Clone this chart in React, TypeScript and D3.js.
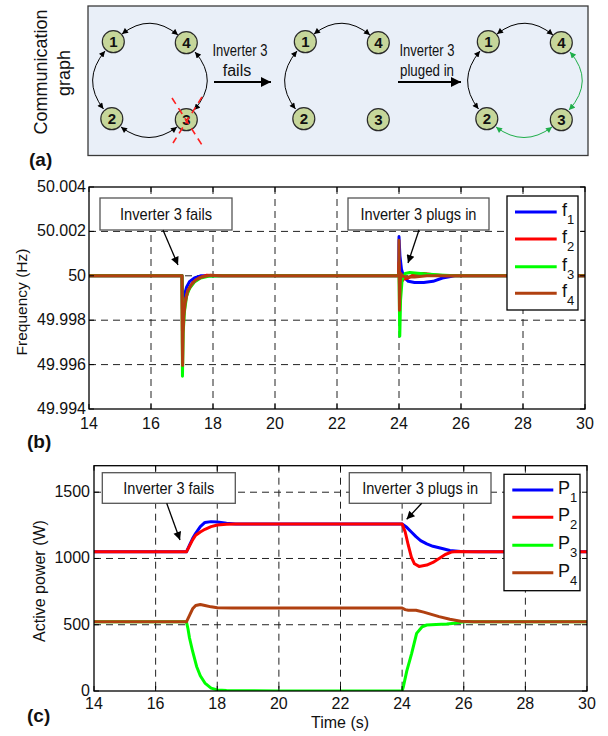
import React from 'react';
import * as d3 from 'd3';

// ---------- data ----------
const timeTicks = [14, 16, 18, 20, 22, 24, 26, 28, 30];
const freqTicks = [49.994, 49.996, 49.998, 50, 50.002, 50.004];
const freqTickLabels = ['49.994', '49.996', '49.998', '50', '50.002', '50.004'];
const powerTicks = [0, 500, 1000, 1500];
const powerTickLabels = ['0', '500', '1000', '1500'];

const f1T = [14, 17.0, 17.015, 17.04, 17.08, 17.15, 17.25, 17.4, 17.6, 17.9, 18.5, 23.99, 24.0, 24.03, 24.08, 24.15, 24.3, 24.5, 24.8, 25.1, 25.4, 25.8, 26.2, 30];
const f1V = [50, 50, 49.9985, 49.9988, 49.99915, 49.9995, 49.99975, 49.9999, 50.0, 50.0, 50.0, 50, 50.00176, 50.0009, 50.0003, 49.99995, 49.99975, 49.9997, 49.9997, 49.99975, 49.9999, 50.0, 50.0, 50];
const f2T = [14, 17.0, 17.015, 17.05, 17.1, 17.2, 17.35, 17.55, 17.8, 18.2, 23.99, 24.0, 24.02, 24.06, 24.15, 24.3, 24.5, 24.8, 25.1, 25.5, 26, 30];
const f2V = [50, 50, 49.9975, 49.9984, 49.9989, 49.99935, 49.9997, 49.9999, 50.00003, 50, 50, 50.0006, 49.9993, 49.9997, 49.99985, 49.9999, 50.00008, 50.0001, 50.00005, 50.0, 50, 50];
const f3T = [14, 17.0, 17.015, 17.04, 17.08, 17.15, 17.25, 17.4, 17.6, 17.85, 18.3, 23.99, 24.0, 24.025, 24.05, 24.1, 24.2, 24.35, 24.6, 24.9, 25.3, 25.8, 30];
const f3V = [50, 50, 49.99548, 49.9975, 49.9984, 49.9991, 49.99945, 49.99972, 49.9999, 49.99998, 50, 50, 50.0001, 49.99728, 49.9989, 49.9998, 50.0001, 50.00015, 50.00012, 50.00008, 50.00004, 50, 50];
const f4T = [14, 17.0, 17.01, 17.02, 17.035, 17.06, 17.1, 17.18, 17.3, 17.45, 17.65, 17.9, 18.3, 23.99, 24.0, 24.015, 24.035, 24.06, 24.1, 24.2, 24.5, 24.9, 25.3, 30];
const f4V = [50, 50, 49.997, 49.99596, 49.9974, 49.9982, 49.99875, 49.9993, 49.9996, 49.99982, 49.99995, 50.00002, 50, 50, 50.0016, 49.99845, 49.9996, 50.0001, 50.0, 49.99995, 49.99995, 50.0, 50, 50];

const p1T = [14, 17.0, 17.1, 17.2, 17.3, 17.45, 17.6, 17.8, 18.0, 18.3, 18.6, 24.0, 24.15, 24.3, 24.45, 24.6, 24.8, 25.0, 25.3, 25.55, 25.9, 26.5, 30];
const p1V = [1050, 1050, 1100, 1150, 1190, 1240, 1272, 1278, 1275, 1265, 1260, 1260, 1235, 1200, 1165, 1135, 1110, 1092, 1075, 1060, 1052, 1050, 1050];
const p2T = [14, 17.0, 17.1, 17.2, 17.3, 17.45, 17.6, 17.8, 18.0, 18.3, 18.6, 24.0, 24.1, 24.2, 24.3, 24.4, 24.55, 24.8, 25.0, 25.2, 25.4, 25.6, 25.8, 26.2, 30];
const p2V = [1050, 1050, 1095, 1140, 1175, 1200, 1220, 1240, 1252, 1258, 1260, 1260, 1200, 1100, 1010, 960, 940, 950, 970, 1000, 1030, 1048, 1052, 1050, 1050];
const p3T = [14, 17.0, 17.05, 17.1, 17.2, 17.33, 17.45, 17.6, 17.8, 18.0, 18.3, 20, 24.0, 24.04, 24.15, 24.31, 24.47, 24.65, 24.8, 25.1, 25.45, 25.7, 26.0, 30];
const p3V = [522, 522, 470, 400, 300, 185, 115, 60, 22, 8, 3, 0, 0, 32, 150, 284, 435, 485, 498, 502, 505, 512, 522, 522];
const p4T = [14, 17.0, 17.1, 17.2, 17.3, 17.45, 17.6, 17.8, 18.0, 18.5, 24.0, 24.1, 24.2, 24.45, 24.7, 24.95, 25.2, 25.55, 25.9, 26.3, 30];
const p4V = [522, 522, 570, 620, 645, 652, 645, 635, 628, 626, 626, 614, 610, 609, 595, 578, 561, 541, 526, 522, 522];

const BLUE = '#0000ff';
const RED = '#ff0000';
const GREEN = '#00ff00';
const BROWN = '#b04010';

const SANS = "'Liberation Sans', Arial, Helvetica, sans-serif";
const NARROW = "'Liberation Sans Narrow', 'Arial Narrow', 'Liberation Sans', Arial, sans-serif";

type Series = { t: number[]; v: number[]; color: string; name: string; sub: string };

const freqSeries: Series[] = [
  { t: f1T, v: f1V, color: BLUE, name: 'f', sub: '1' },
  { t: f2T, v: f2V, color: RED, name: 'f', sub: '2' },
  { t: f3T, v: f3V, color: GREEN, name: 'f', sub: '3' },
  { t: f4T, v: f4V, color: BROWN, name: 'f', sub: '4' },
];
const powerSeries: Series[] = [
  { t: p1T, v: p1V, color: BLUE, name: 'P', sub: '1' },
  { t: p2T, v: p2V, color: RED, name: 'P', sub: '2' },
  { t: p3T, v: p3V, color: GREEN, name: 'P', sub: '3' },
  { t: p4T, v: p4V, color: BROWN, name: 'P', sub: '4' },
];

type Annot = { x0: number; y0: number; x1: number; y1: number; text: string; tl: number; ax0: number; ay0: number; ax1: number; ay1: number };

type PlotProps = {
  id: string;
  left: number; right: number; top: number; bottom: number;
  yDomain: [number, number];
  yTicks: number[]; yLabels: string[]; yLabelRight: number;
  xLabelBaseline: number;
  series: Series[];
  legend: { x0: number; x1: number; y0: number; y1: number; rows: number[]; lx0: number; lx1: number; tx: number };
  annots: Annot[];
};

function Plot(p: PlotProps) {
  const x = d3.scaleLinear().domain([14, 30]).range([p.left, p.right]);
  const y = d3.scaleLinear().domain(p.yDomain).range([p.bottom, p.top]);
  const line = d3.line<[number, number]>().x(d => x(d[0])).y(d => y(d[1]));
  const tk = 5;
  return (
    <g>
      <defs>
        <clipPath id={p.id + 'clip'}>
          <rect x={p.left} y={p.top} width={p.right - p.left} height={p.bottom - p.top} />
        </clipPath>
      </defs>
      <rect x={p.left} y={p.top} width={p.right - p.left} height={p.bottom - p.top} fill="#fff" />
      {timeTicks.filter(t => t > 14 && t < 30).map(t => (
        <line key={'gx' + t} x1={x(t)} x2={x(t)} y1={p.top} y2={p.bottom} stroke="#222" strokeWidth={1} strokeDasharray="7,5" />
      ))}
      {p.yTicks.filter(v => y(v) > p.top + 1 && y(v) < p.bottom - 1).map(v => (
        <line key={'gy' + v} x1={p.left} x2={p.right} y1={y(v)} y2={y(v)} stroke="#222" strokeWidth={1} strokeDasharray="7,5" />
      ))}
      <g clipPath={`url(#${p.id}clip)`}>
        {p.series.map(s => (
          <path key={s.sub} d={line(s.t.map((t, i) => [t, s.v[i]] as [number, number])) || ''} fill="none" stroke={s.color} strokeWidth={3} strokeLinejoin="round" />
        ))}
      </g>
      {timeTicks.map(t => (
        <g key={'tx' + t}>
          <line x1={x(t)} x2={x(t)} y1={p.bottom} y2={p.bottom - tk} stroke="#000" />
          <line x1={x(t)} x2={x(t)} y1={p.top} y2={p.top + tk} stroke="#000" />
          <text x={x(t)} y={p.xLabelBaseline} textAnchor="middle" fontFamily={SANS} fontSize={16} fill="#111">{t}</text>
        </g>
      ))}
      {p.yTicks.map((v, i) => (
        <g key={'ty' + v}>
          <line x1={p.left} x2={p.left + tk} y1={y(v)} y2={y(v)} stroke="#000" />
          <line x1={p.right} x2={p.right - tk} y1={y(v)} y2={y(v)} stroke="#000" />
          <text x={p.yLabelRight} y={y(v) + 5} textAnchor="end" fontFamily={SANS} fontSize={16} fill="#111">{p.yLabels[i]}</text>
        </g>
      ))}
      <rect x={p.left} y={p.top} width={p.right - p.left} height={p.bottom - p.top} fill="none" stroke="#000" strokeWidth={1.3} />
      {p.annots.map((a, i) => (
        <g key={'an' + i}>
          <rect x={a.x0} y={a.y0} width={a.x1 - a.x0} height={a.y1 - a.y0} fill="#fff" stroke="#555" strokeWidth={1.3} />
          <text x={(a.x0 + a.x1) / 2} y={(a.y0 + a.y1) / 2 + 6} textAnchor="middle" fontFamily={NARROW} fontSize={17} fill="#111"
            textLength={a.tl} lengthAdjust="spacingAndGlyphs">{a.text}</text>
          <line x1={a.ax0} y1={a.ay0} x2={a.ax1} y2={a.ay1} stroke="#000" strokeWidth={1.3} markerEnd="url(#annArrow)" />
        </g>
      ))}
      <rect x={p.legend.x0} y={p.legend.y0} width={p.legend.x1 - p.legend.x0} height={p.legend.y1 - p.legend.y0} fill="#fff" stroke="#000" strokeWidth={1.3} />
      {p.series.map((s, i) => (
        <g key={'lg' + i}>
          <line x1={p.legend.lx0} x2={p.legend.lx1} y1={p.legend.rows[i]} y2={p.legend.rows[i]} stroke={s.color} strokeWidth={3} />
          <text x={p.legend.tx} y={p.legend.rows[i] + 4} fontFamily={SANS} fontSize={18} fill="#111">
            {s.name}
            <tspan fontSize={13} dy={8}>{s.sub}</tspan>
          </text>
        </g>
      ))}
    </g>
  );
}

// ---------- communication graph ----------
const graphOffsets = [0, 192, 375];
const nodeIds = ['1', '4', '2', '3'];
const nodeDx = [0, 73, -1.5, 73];
const nodeDy = [0, 1, 77, 78];

function Graph({ ox, arcs }: { ox: number; arcs: { d: string; color: string }[] }) {
  const bx = 113.3 + ox;
  const by = 41.7;
  return (
    <g>
      {arcs.map((a, i) => (
        <path key={i} d={a.d} transform={`translate(${ox},0)`} fill="none" stroke={a.color} strokeWidth={1}
          markerStart={a.color === '#000' ? 'url(#smallArrowK)' : 'url(#smallArrowG)'}
          markerEnd={a.color === '#000' ? 'url(#smallArrowK)' : 'url(#smallArrowG)'} />
      ))}
      {nodeIds.map((n, i) => (
        <g key={n}>
          <circle cx={bx + nodeDx[i]} cy={by + nodeDy[i]} r={11} fill="#c6d69a" stroke="#2a2a2a" strokeWidth={1.2} />
          <text x={bx + nodeDx[i]} y={by + nodeDy[i] + 5.5} textAnchor="middle" fontFamily={SANS} fontWeight="bold" fontSize={15} fill="#111">{n}</text>
        </g>
      ))}
    </g>
  );
}

const arcTop = 'M122,34 Q150,12 178,35';
const arcLeft = 'M105,51 Q81,80 103.5,109';
const arcRight = 'M195,52 Q220,81 194,110';
const arcBottom = 'M121,127 Q149,148 177,127';

export default function App() {
  const K = '#000';
  const G = '#1fae4a';
  return (
    <svg width={608} height={736} style={{ position: 'absolute', left: 0, top: 0, background: '#fff' }}>
      <defs>
        <marker id="annArrow" viewBox="0 0 10 10" refX={10} refY={5} markerWidth={11} markerHeight={8} markerUnits="userSpaceOnUse" orient="auto">
          <path d="M0,0 L10,5 L0,10 z" fill="#000" />
        </marker>
        <marker id="bigArrow" viewBox="0 0 10 10" refX={10} refY={5} markerWidth={11} markerHeight={10} markerUnits="userSpaceOnUse" orient="auto">
          <path d="M0,0 L10,5 L0,10 z" fill="#000" />
        </marker>
        <marker id="smallArrowK" viewBox="0 0 10 10" refX={10} refY={5} markerWidth={7} markerHeight={6} markerUnits="userSpaceOnUse" orient="auto-start-reverse">
          <path d="M0,0 L10,5 L0,10 z" fill="#000" />
        </marker>
        <marker id="smallArrowG" viewBox="0 0 10 10" refX={10} refY={5} markerWidth={7} markerHeight={6} markerUnits="userSpaceOnUse" orient="auto-start-reverse">
          <path d="M0,0 L10,5 L0,10 z" fill={G} />
        </marker>
      </defs>

      {/* panel (a) */}
      <text transform="translate(47,72) rotate(-90)" textAnchor="middle" fontFamily={SANS} fontSize={18} fill="#111">Communication</text>
      <text transform="translate(70,73) rotate(-90)" textAnchor="middle" fontFamily={SANS} fontSize={18} fill="#111">graph</text>
      <text x={29} y={166} fontFamily={SANS} fontWeight="bold" fontSize={19} fill="#111">(a)</text>
      <rect x={88} y={6} width={500} height={149.5} fill="#e9eff8" stroke="#3a3a3a" strokeWidth={1.3} />
      <Graph ox={graphOffsets[0]} arcs={[{ d: arcTop, color: K }, { d: arcLeft, color: K }, { d: arcRight, color: K }, { d: arcBottom, color: K }]} />
      <g stroke="#ff2020" strokeWidth={1.6} strokeDasharray="7,5">
        <line x1={172} y1={98} x2={202} y2={145} />
        <line x1={202} y1={97} x2={173} y2={143} />
      </g>
      <Graph ox={graphOffsets[1]} arcs={[{ d: arcTop, color: K }, { d: arcLeft, color: K }]} />
      <Graph ox={graphOffsets[2]} arcs={[{ d: arcTop, color: K }, { d: arcLeft, color: K }, { d: arcRight, color: G }, { d: arcBottom, color: G }]} />
      <text x={240} y={56} textAnchor="middle" fontFamily={NARROW} fontSize={16} fill="#111" textLength={55} lengthAdjust="spacingAndGlyphs">Inverter 3</text>
      <text x={237} y={76} textAnchor="middle" fontFamily={NARROW} fontSize={16} fill="#111">fails</text>
      <line x1={214} y1={82} x2={271} y2={82} stroke="#000" strokeWidth={2} markerEnd="url(#bigArrow)" />
      <text x={427} y={56} textAnchor="middle" fontFamily={NARROW} fontSize={16} fill="#111" textLength={55} lengthAdjust="spacingAndGlyphs">Inverter 3</text>
      <text x={427} y={76} textAnchor="middle" fontFamily={NARROW} fontSize={16} fill="#111" textLength={54} lengthAdjust="spacingAndGlyphs">pluged in</text>
      <line x1={398} y1={82} x2={461} y2={82} stroke="#000" strokeWidth={2} markerEnd="url(#bigArrow)" />

      {/* panel (b) */}
      <Plot
        id="freq"
        left={89} right={585} top={187} bottom={409}
        yDomain={[49.994, 50.004]}
        yTicks={freqTicks} yLabels={freqTickLabels} yLabelRight={86}
        xLabelBaseline={429}
        series={freqSeries}
        legend={{ x0: 507, x1: 578, y0: 196, y1: 310, rows: [212, 239, 266.7, 293.3], lx0: 515, lx1: 556.7, tx: 562 }}
        annots={[
          { x0: 100, y0: 198, x1: 232, y1: 230, text: 'Inverter 3 fails', tl: 92, ax0: 163, ay0: 230, ax1: 178, ay1: 265 },
          { x0: 348, y0: 198, x1: 489, y1: 230, text: 'Inverter 3 plugs in', tl: 116, ax0: 419, ay0: 230, ax1: 408, ay1: 263 },
        ]}
      />
      <text transform="translate(27,302) rotate(-90)" textAnchor="middle" fontFamily={SANS} fontSize={15.5} fill="#111">Frequency (Hz)</text>
      <text x={27} y={448} fontFamily={SANS} fontWeight="bold" fontSize={19} fill="#111">(b)</text>

      {/* panel (c) */}
      <Plot
        id="pow"
        left={94} right={587} top={465.7} bottom={691}
        yDomain={[0, 1700]}
        yTicks={powerTicks} yLabels={powerTickLabels} yLabelRight={90}
        xLabelBaseline={709}
        series={powerSeries}
        legend={{ x0: 504, x1: 580, y0: 474.3, y1: 590.7, rows: [490, 517.3, 545.3, 572.7], lx0: 512.3, lx1: 553.3, tx: 558 }}
        annots={[
          { x0: 102.3, y0: 472.7, x1: 235.3, y1: 503.3, text: 'Inverter 3 fails', tl: 91, ax0: 166.7, ay0: 503.3, ax1: 180, ay1: 540 },
          { x0: 349.3, y0: 472.7, x1: 491, y1: 503.3, text: 'Inverter 3 plugs in', tl: 116, ax0: 421.7, ay0: 503.3, ax1: 406.7, ay1: 519.3 },
        ]}
      />
      <text transform="translate(45,581) rotate(-90)" textAnchor="middle" fontFamily={SANS} fontSize={16} fill="#111">Active power (W)</text>
      <text x={340} y={728} textAnchor="middle" fontFamily={SANS} fontSize={16} fill="#111">Time (s)</text>
      <text x={27} y={722} fontFamily={SANS} fontWeight="bold" fontSize={19} fill="#111">(c)</text>
    </svg>
  );
}
